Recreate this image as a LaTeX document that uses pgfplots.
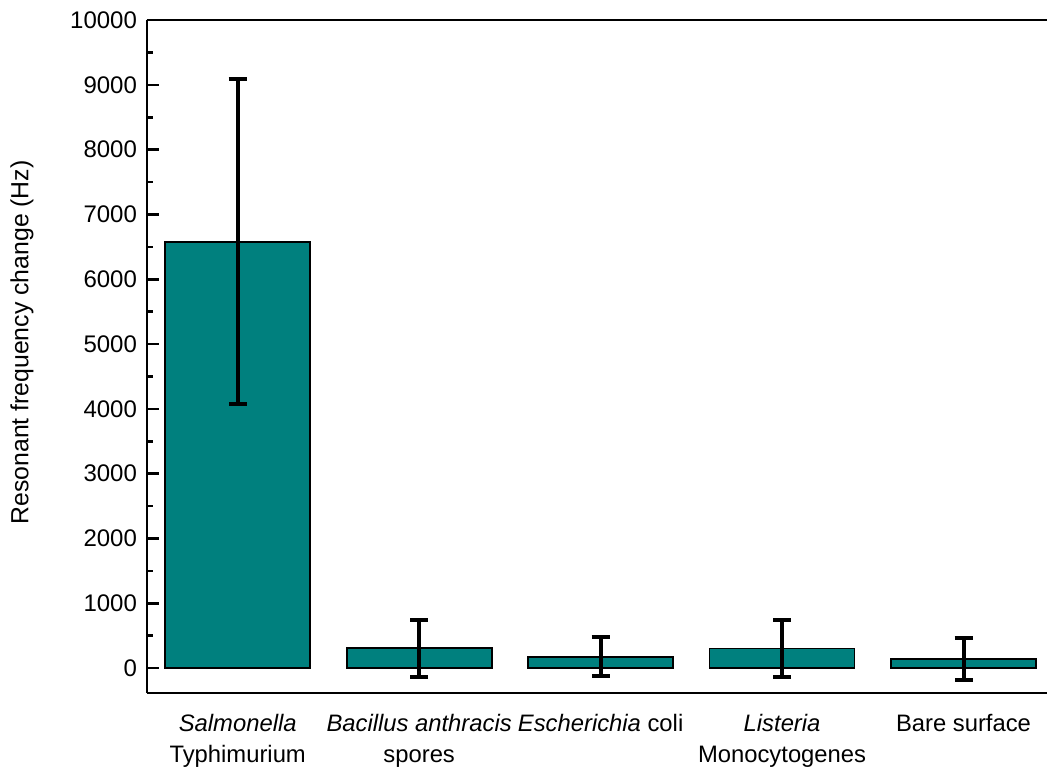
\documentclass[border=0pt]{standalone}
\usepackage{fontspec}
\setmainfont{Liberation Sans}
\usepackage{pgfplots}
\pgfplotsset{compat=1.18}
\definecolor{barteal}{RGB}{0,128,126}

\begin{document}
\begin{tikzpicture}
\begin{axis}[
  at={(0,0)}, anchor=south west,
  scale only axis,
  width=450pt, height=336.5pt,
  xmin=-0.5, xmax=4.46,
  ymin=-386, ymax=10000,
  axis x line=box,
  axis y line=left,
  axis line style={line width=1.3pt, -},
  tick align=inside,
  ytick={0,1000,...,10000},
  minor ytick={500,1500,...,9500},
  scaled y ticks=false,
  major tick length=6pt,
  minor tick length=3pt,
  y tick style={line width=1.3pt, black},
  xtick={0,1,2,3,4},
  x tick style={draw=none},
  xticklabels={{\textit{Salmonella}\\Typhimurium},
               {\textit{Bacillus anthracis}\\spores},
               {\textit{Escherichia} coli},
               {\textit{Listeria}\\Monocytogenes},
               {Bare surface}},
  xticklabel style={align=center, font=\fontsize{11.9}{15.5}\selectfont, yshift=-1pt},
  yticklabel style={font=\fontsize{12}{14}\selectfont, xshift=-1.5pt},
  /pgf/number format/.cd, set thousands separator={}, assume math mode=true,
  /pgfplots/.cd,
  ylabel={Resonant frequency change (Hz)},
  ylabel style={at={(axis description cs:-0.139,0.521)}, anchor=center,
                font=\fontsize{12.4}{14}\selectfont},
  ybar, bar width=72.5pt,
  clip=false,
]
\addplot[
  fill=barteal, draw=black, line width=0.9pt,
  error bars/.cd, y dir=both, y explicit,
  error bar style={line width=2pt, black},
  error mark options={rotate=90, mark size=4.5pt, line width=2pt, black},
] table[x=x, y=y, y error=e] {
x y e
0 6580 2510
1 305 440
2 175 300
3 300 440
4 140 325
};
\end{axis}
\pgfresetboundingbox
\useasboundingbox (-73.5pt,-37.5pt) rectangle (450pt,346.5pt);
\end{tikzpicture}
\end{document}
